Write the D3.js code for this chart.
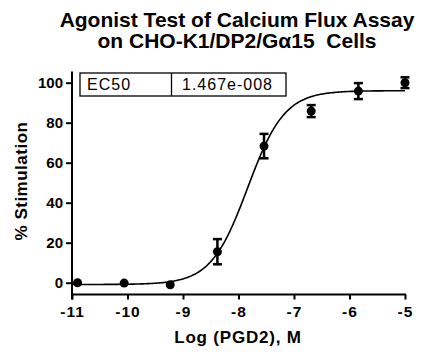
<!DOCTYPE html>
<html><head><meta charset="utf-8">
<script src="https://cdn.jsdelivr.net/npm/d3@7"></script>
<style>
html,body{margin:0;padding:0;background:#fff;}
svg{display:block;}
text{font-family:"Liberation Sans",Arial,sans-serif;fill:#000;}
</style></head>
<body>
<svg id="chart" width="442" height="356"></svg>
<script>
const titleLines = ["Agonist Test of Calcium Flux Assay", "on CHO-K1/DP2/G\u03B115  Cells"];
const xLabel = "Log (PGD2), M";
const yLabel = "% Stimulation";
const logConc = [-10.9, -10.06, -9.23, -8.38, -7.54, -6.69, -5.84, -5.0];
const response = [0, -0.2, -1.0, 15.5, 68.3, 85.8, 95.8, 100.0];
const errSD = [0, 0, 0, 6.3, 6.1, 3.0, 4.0, 2.7];
const xTicks = [-11, -10, -9, -8, -7, -6, -5];
const yTicks = [0, 20, 40, 60, 80, 100];
const fitBottom = -0.9, fitTop = 96, logEC50 = Math.log10(1.467e-8), hill = 1.31;
const tableLabels = ["EC50", "1.467e-008"];

const svg = d3.select("#chart");
const x = d3.scaleLinear().domain([-11, -5]).range([72, 405]);
const y = d3.scaleLinear().domain([0, 100]).range([282.7, 82.7]);
const axisBottomY = 294.5;
const FONT = '"Liberation Sans",Arial,sans-serif';

// title
svg.append("text").attr("x", 237).attr("y", 27).attr("text-anchor", "middle")
  .attr("font-size", 21).attr("font-weight", "bold").text(titleLines[0]);
svg.append("text").attr("x", 237).attr("y", 48).attr("text-anchor", "middle")
  .attr("font-size", 21).attr("font-weight", "bold").style("white-space","pre").text(titleLines[1]);

// y axis
const yAxis = d3.axisLeft(y).tickValues(yTicks).tickSize(6).tickPadding(3);
const gy = svg.append("g").attr("transform", "translate(72,0)").call(yAxis);
gy.select(".domain").remove();
gy.append("line").attr("x1", 0).attr("x2", 0).attr("y1", 71.5).attr("y2", axisBottomY + 5)
  .attr("stroke", "#000").attr("stroke-width", 2);
gy.selectAll(".tick line").attr("stroke-width", 2);
gy.selectAll(".tick text").attr("font-size", 15).attr("font-weight", "bold")
  .attr("font-family", FONT).attr("fill", "#000");

// x axis
const xAxis = d3.axisBottom(x).tickValues(xTicks).tickSize(5).tickPadding(6).tickFormat(d3.format("d"));
const gx = svg.append("g").attr("transform", `translate(0,${axisBottomY})`).call(xAxis);
gx.select(".domain").remove();
gx.append("line").attr("x1", x(-11) - 1).attr("x2", x(-5) + 1).attr("y1", 0).attr("y2", 0)
  .attr("stroke", "#000").attr("stroke-width", 2);
gx.selectAll(".tick line").attr("stroke-width", 2);
gx.selectAll(".tick text").attr("font-size", 15.5).attr("font-weight", "bold")
  .attr("font-family", FONT).attr("fill", "#000").attr("letter-spacing", 1)
  .text(d => "-" + Math.abs(d));

// axis labels
svg.append("text").attr("x", 238).attr("y", 343).attr("text-anchor", "middle")
  .attr("font-size", 17).attr("font-weight", "bold").attr("letter-spacing", 0.8).text(xLabel);
svg.append("text").attr("transform", "translate(27,181) rotate(-90)").attr("text-anchor", "middle")
  .attr("font-size", 17).attr("font-weight", "bold").attr("letter-spacing", 0.5).text(yLabel);

// fit curve
const curveX = d3.range(0, 301).map(i => -11 + i * 6 / 300);
const fit = v => fitBottom + (fitTop - fitBottom) / (1 + Math.pow(10, (logEC50 - v) * hill));
svg.append("path").datum(curveX)
  .attr("d", d3.line().x(d => x(d)).y(d => y(fit(d))).curve(d3.curveLinear))
  .attr("fill", "none").attr("stroke", "#000").attr("stroke-width", 1.6);

// error bars
const pts = logConc.map((c, i) => ({c, r: response[i], e: errSD[i]}));
const eb = svg.append("g");
pts.filter(p => p.e > 0).forEach(p => {
  eb.append("line").attr("x1", x(p.c)).attr("x2", x(p.c)).attr("y1", y(p.r - p.e)).attr("y2", y(p.r + p.e))
    .attr("stroke", "#000").attr("stroke-width", 2.5);
  [p.r - p.e, p.r + p.e].forEach(v => eb.append("line").attr("x1", x(p.c) - 4.5).attr("x2", x(p.c) + 4.5)
    .attr("y1", y(v)).attr("y2", y(v)).attr("stroke", "#000").attr("stroke-width", 2.5));
});
svg.append("g").selectAll("circle").data(pts).join("circle")
  .attr("cx", d => x(d.c)).attr("cy", d => y(d.r)).attr("r", 4.5).attr("fill", "#000");

// EC50 table
const tb = svg.append("g");
tb.append("rect").attr("x", 80).attr("y", 73).attr("width", 206).attr("height", 23)
  .attr("fill", "#fff").attr("stroke", "#000").attr("stroke-width", 1.3);
tb.append("line").attr("x1", 171.5).attr("x2", 171.5).attr("y1", 73).attr("y2", 96)
  .attr("stroke", "#000").attr("stroke-width", 1.3);
tb.append("text").attr("x", 87).attr("y", 90).attr("font-size", 16).attr("letter-spacing", 1).text(tableLabels[0]);
tb.append("text").attr("x", 182).attr("y", 90).attr("font-size", 16).attr("letter-spacing", 1).text(tableLabels[1]);
</script>
</body></html>
